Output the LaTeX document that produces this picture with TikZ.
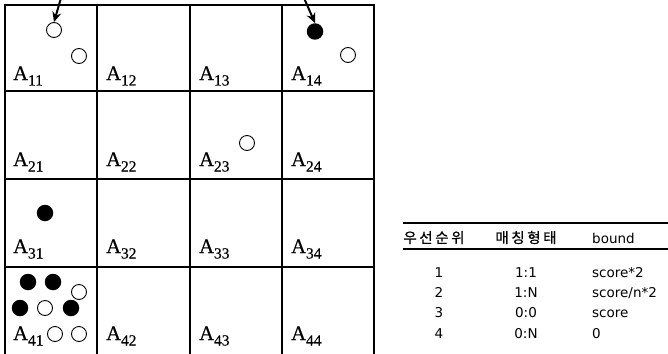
\documentclass[tikz,border=0pt]{standalone}
\usepackage{fontspec}
\setmainfont{Liberation Serif}
\newfontfamily\lblfont[FakeBold=0.5]{Liberation Serif}
\newfontfamily\kr[LetterSpace=18,FakeBold=0.6]{Noto Sans CJK KR}
\newfontfamily\tsans{DejaVu Sans}
\usetikzlibrary{arrows.meta}
\tikzset{
  gridline/.style={line width=2pt},
  lbl/.style={anchor=base west, inner sep=0pt, font=\lblfont\fontsize{20.5}{20.5}\selectfont},
  opendot/.style={circle, draw, line width=0.9pt, minimum size=15pt, inner sep=0pt},
  fulldot/.style={circle, fill, minimum size=16.5pt, inner sep=0pt},
  ptr/.style={line width=2pt, -{Stealth[length=10pt,width=9pt]}},
  tcell/.style={font=\tsans\fontsize{13.5}{13.5}\selectfont, inner sep=0pt, anchor=base},
  thead/.style={tcell, font=\kr\fontsize{14.5}{14.5}\selectfont},
  tleft/.style={tcell, anchor=base west},
}
\newcommand{\lab}[2]{A\raisebox{-5.5pt}{\fontsize{15.5}{15.5}\selectfont #1#2}}
\begin{document}
\begin{tikzpicture}[x=1pt,y=-1pt]
\useasboundingbox (0,0) rectangle (668,353);
% grid
\foreach \x in {5,97,190,282,374} \draw[gridline] (\x,4) -- (\x,356);
\foreach \y in {5,91,179,267} \draw[gridline] (4,\y) -- (375,\y);
% labels
\foreach \r/\yb in {1/80,2/166,3/253,4/340}{
  \foreach \c/\xl in {1/13,2/106,3/199,4/291}{
    \node[lbl] (a\r\c) at (\xl,\yb) {\lab{\r}{\c}};
  }
}
% dots
\node[opendot] (o1) at (54,30) {};
\node[opendot] (o2) at (79,56) {};
\node[fulldot] (f1) at (315,31.5) {};
\node[opendot] (o3) at (348,55) {};
\node[opendot] (o4) at (247,143) {};
\node[fulldot] (f2) at (45,213) {};
\node[fulldot] (f3) at (28,282) {};
\node[fulldot] (f4) at (53,282) {};
\node[opendot] (o5) at (79,292) {};
\node[fulldot] (f5) at (20,308) {};
\node[opendot] (o6) at (45,308) {};
\node[fulldot] (f6) at (71,308) {};
\node[opendot] (o7) at (55,334) {};
\node[opendot] (o8) at (79,334) {};
% arrows
\coordinate (s1) at (61,-2);
\coordinate (s2) at (304,-2);
\draw[ptr] (s1) -- (o1.north);
\draw[ptr] (s2) -- (f1.north);
% table
\draw[line width=1.8pt] (403,223) -- (668,223);
\draw[line width=1.2pt] (403,249) -- (668,249);
\node[thead] (h1) at (434,243) {우선순위};
\node[thead] (h2) at (526,243) {매칭형태};
\node[tleft] (h3) at (592,243) {bound};
\foreach \i/\yb/\m/\b in {1/277/1:1/score*2, 2/297/1:N/score\slash n*2, 3/317/0:0/score, 4/338/0:N/0}{
  \node[tcell] (n\i) at (439,\yb) {\i};
  \node[tcell] (m\i) at (526,\yb) {\m};
  \node[tleft] (b\i) at (592,\yb) {\b};
}
\end{tikzpicture}
\end{document}
